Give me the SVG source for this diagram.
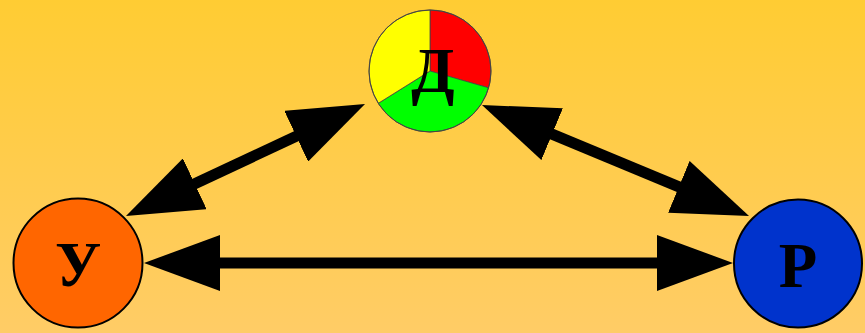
<svg xmlns="http://www.w3.org/2000/svg" width="865" height="333" viewBox="0 0 865 333">
<defs>
<linearGradient id="bg" x1="0" y1="0" x2="0" y2="1">
<stop offset="0" stop-color="#FFCC33"/>
<stop offset="1" stop-color="#FFCC66"/>
</linearGradient>
<marker id="ah" markerUnits="userSpaceOnUse" markerWidth="76" markerHeight="56" viewBox="0 0 76 56" refX="36" refY="28" orient="auto-start-reverse">
<path d="M0,0 L76,28 L0,56 Z" fill="#000"/>
</marker>
</defs>
<style>
.conn{stroke:#000;stroke-width:11;fill:none;marker-start:url(#ah);marker-end:url(#ah)}
.lbl{font-family:"Liberation Serif","Times New Roman",serif;font-weight:bold;font-size:63px;text-anchor:middle;fill:#000}
.slice{stroke:#444;stroke-width:0.8}
.node{stroke:#000;stroke-width:2}
</style>
<rect x="0" y="0" width="865" height="333" fill="url(#bg)"/>
<g id="connectors">
<line class="conn" x1="184" y1="263" x2="693" y2="263"/>
<line class="conn" x1="162.2" y1="199" x2="328.8" y2="121"/>
<line class="conn" x1="518.9" y1="120.4" x2="712.1" y2="200.6"/>
</g>
<g id="node-D">
<path class="slice" d="M430,71 L430,10 A61,61 0 0 1 488.6,87.8 Z" fill="#FF0000"/>
<path class="slice" d="M430,71 L488.6,87.8 A61,61 0 0 1 378.3,103.3 Z" fill="#00FF00"/>
<path class="slice" d="M430,71 L378.3,103.3 A61,61 0 0 1 430,10 Z" fill="#FFFF00"/>
<circle cx="430" cy="71" r="61" fill="none" stroke="#444" stroke-width="1"/>
<text class="lbl" x="433" y="92">Д</text>
</g>
<g id="node-U">
<circle class="node" cx="78" cy="263" r="64.5" fill="#FF6600"/>
<text class="lbl" x="78" y="286">У</text>
</g>
<g id="node-R">
<circle class="node" cx="798" cy="263.5" r="64" fill="#0033CC"/>
<text class="lbl" x="798" y="287">Р</text>
</g>
</svg>
